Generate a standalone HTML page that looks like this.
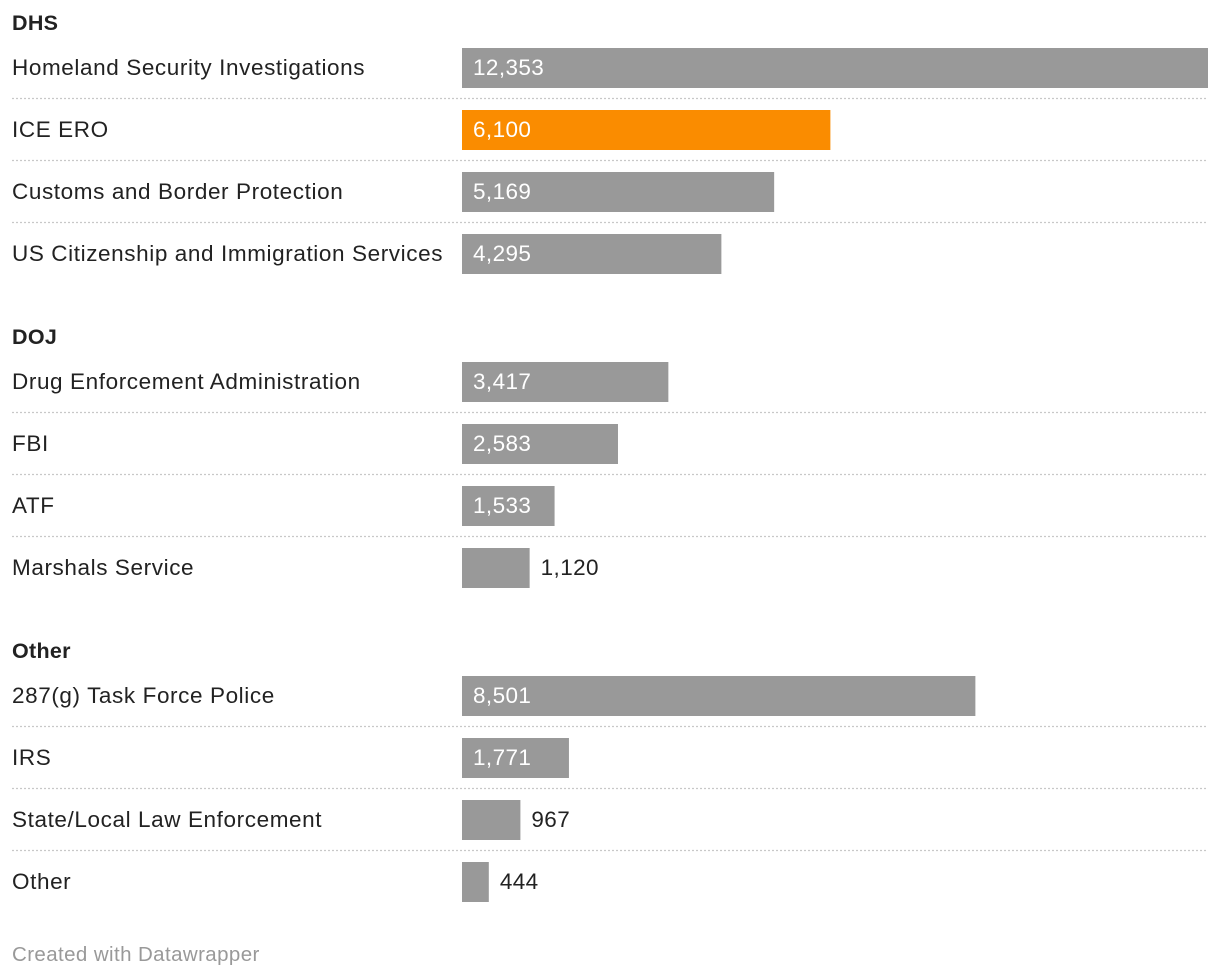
<!DOCTYPE html>
<html><head><meta charset="utf-8"><style>
body{margin:0;background:#fff;width:1220px;height:978px;overflow:hidden;font-family:"Liberation Sans",sans-serif;}
svg{display:block}
</style></head><body>
<svg id="chart" width="1220" height="978"></svg>
<script>
const groups = ["DHS","DOJ","Other"];
const labels = [
 ["Homeland Security Investigations","ICE ERO","Customs and Border Protection","US Citizenship and Immigration Services"],
 ["Drug Enforcement Administration","FBI","ATF","Marshals Service"],
 ["287(g) Task Force Police","IRS","State/Local Law Enforcement","Other"]
];
const values = [
 [12353,6100,5169,4295],
 [3417,2583,1533,1120],
 [8501,1771,967,444]
];
const highlight = "ICE ERO";
const maxV = 12353;
const x0 = 462, x1 = 1208;
const xs = v => (v / maxV) * (x1 - x0);
const svg = document.getElementById('chart');
const NS = "http://www.w3.org/2000/svg";
function mk(tag, attrs){const e=document.createElementNS(NS,tag);for(const k in attrs)e.setAttribute(k,attrs[k]);svg.appendChild(e);return e;}
const fmt = v => v.toLocaleString('en-US');
groups.forEach((g, gi) => {
  const gy = 22 + gi * 314;
  const h = mk('text',{x:12,y:gy+8,'font-size':21.5,'font-weight':'bold',fill:'#222','letter-spacing':0.3});
  h.textContent = g;
  
  
  labels[gi].forEach((lab, i) => {
    const top = 48 + gi * 314 + i * 62;
    const v = values[gi][i];
    const t = mk('text',{x:12,y:top+27,'font-size':22.5,fill:'#222','letter-spacing':0.6});
    t.textContent = lab;
    
    
    const w = xs(v);
    const r = mk('rect',{x:x0,y:top,width:w,height:40,fill: lab===highlight ? '#fa8c00' : '#999999'});
    
    
    const inside = w > 85;
    const vt = mk('text',{x: inside ? x0+11 : x0+w+11, y: top+27,'font-size':22.5,'letter-spacing':0.4, fill: inside ? '#fff' : '#222'});
    vt.textContent = fmt(v);
    
    
    if (i < labels[gi].length - 1) {
      const l = mk('line',{x1:12,x2:1208,y1:top+50.5,y2:top+50.5,stroke:'#c8c8c8','stroke-width':1.2,'stroke-dasharray':'2,2'});
      
      
    }
  });
});
const f = mk('text',{x:12,y:961,'font-size':20.5,fill:'#999','letter-spacing':0.4});
f.textContent = "Created with Datawrapper";


</script>
</body></html>
